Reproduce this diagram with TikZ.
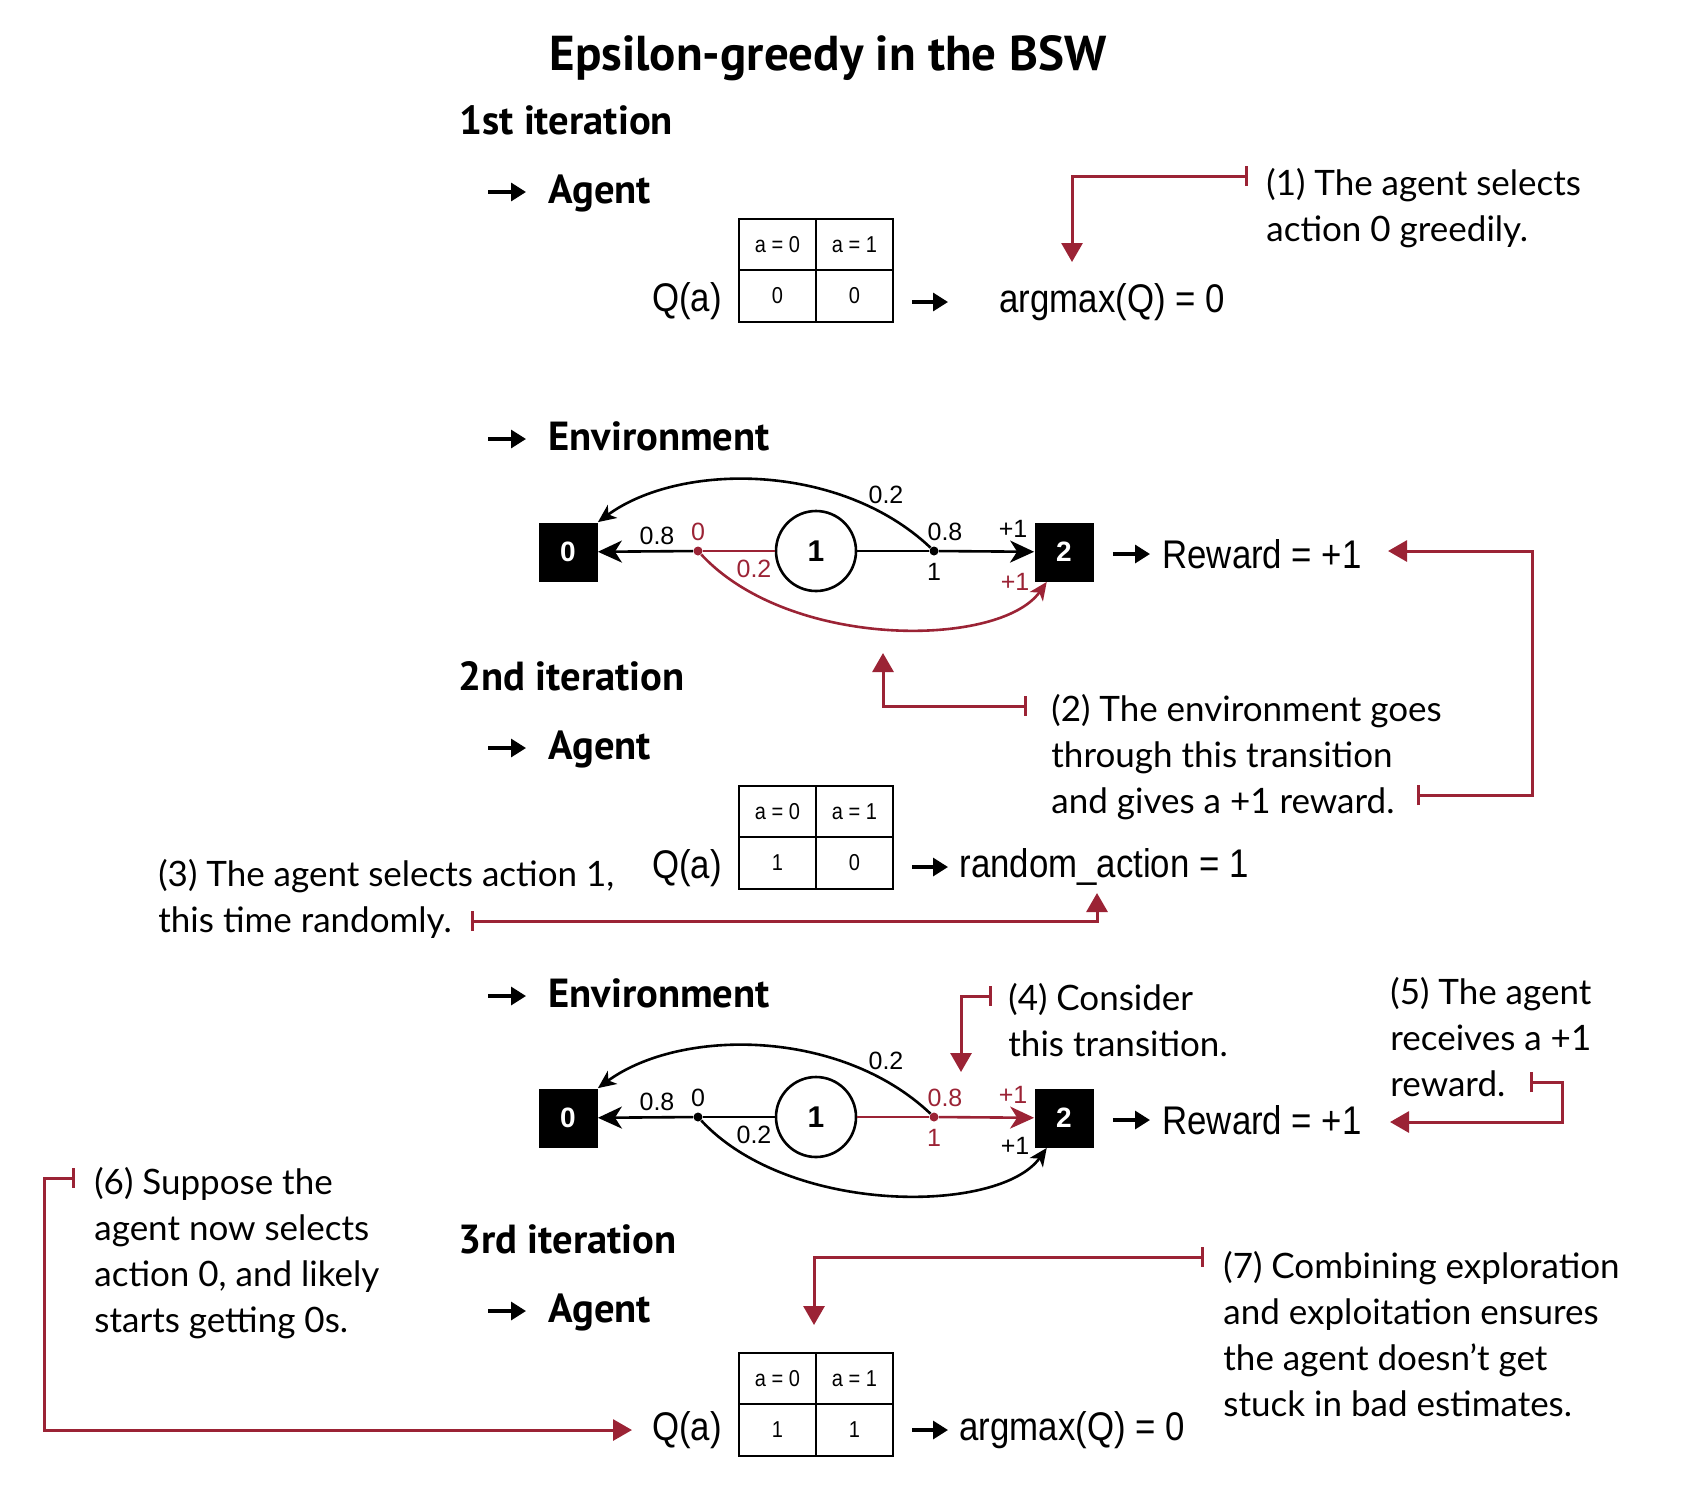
\documentclass[tikz,border=0pt]{standalone}
\usepackage{fontspec}
\setmainfont{Liberation Sans}[FakeStretch=0.87]
\newfontfamily\plainfont{Liberation Sans}
\newfontfamily\headfont{PT Sans}
\newfontfamily\handfont{Lato}
\usetikzlibrary{arrows.meta}
\definecolor{bswred}{RGB}{155,35,53}

\tikzset{
  head/.style={font=\headfont\bfseries\fontsize{20.3}{23}\selectfont, anchor=base west, inner sep=0pt},
  bul/.style={line width=1.6pt, -{Triangle[length=7.5pt,width=9pt]}},
  cell/.style={draw, line width=1.2pt, minimum width=38.5pt, minimum height=25.75pt, inner sep=0pt,
    font=\fontsize{11.5}{13}\selectfont},
  val/.style={font=\fontsize{20}{24}\selectfont, inner sep=0pt},
  bswstate/.style={fill=black, text=white, minimum size=29.5pt, inner sep=0pt,
    font=\plainfont\bfseries\fontsize{14}{16}\selectfont},
  midstate/.style={circle, draw, line width=1.3pt, minimum size=40pt, inner sep=0pt,
    font=\plainfont\bfseries\fontsize{15}{17}\selectfont},
  actdot/.style={circle, fill, minimum size=4.5pt, inner sep=0pt},
  lbl/.style={font=\plainfont\fontsize{12.5}{14}\selectfont, inner sep=0pt},
  link/.style={line width=1.3pt},
  bigtip/.style={-{Stealth[length=12pt,width=11pt,inset=3.5pt]}},
  smalltip/.style={-{Stealth[length=9pt,width=8pt,inset=2.5pt]}},
  note/.style={font=\handfont\fontsize{17.5}{23}\selectfont, align=left, anchor=north west, inner sep=0pt},
  callout/.style={draw=bswred, line width=1.5pt, {Bar[width=10pt]}-{Triangle[length=9.5pt,width=10.5pt]}},
}

\begin{document}
\begin{tikzpicture}[x=0.5pt, y=-0.5pt]
  \useasboundingbox (0,0) rectangle (1690,1494);

  % headings
  \node[font=\headfont\bfseries\fontsize{24.5}{27}\selectfont] (title) at (828,58) {Epsilon-greedy in the BSW};
  \node[head] (it1) at (459,134) {1st iteration};
  \node[head] (ag1) at (548,203) {Agent};
  \node[head] (en1) at (548,450) {Environment};
  \node[head] (it2) at (458,690) {2nd iteration};
  \node[head] (ag2) at (548,759) {Agent};
  \node[head] (en2) at (548,1007) {Environment};
  \node[head] (it3) at (458,1253) {3rd iteration};
  \node[head] (ag3) at (548,1322) {Agent};

  \foreach \n/\y in {ag1/192, en1/439, ag2/748, en2/996, ag3/1311} {
    \coordinate (in\n) at (488,\y);
    \draw[bul, shorten >=11pt] (in\n) -- (in\n -| \n.west);
  }

  % Q tables
  \node[cell] (t1a) at (777.5,244.5) {a = 0};
  \node[cell] (t1b) at (854.5,244.5) {a = 1};
  \node[cell] (t1c) at (777.5,296) {0};
  \node[cell] (t1d) at (854.5,296) {0};

  \node[cell] (t2a) at (777.5,811.5) {a = 0};
  \node[cell] (t2b) at (854.5,811.5) {a = 1};
  \node[cell] (t2c) at (777.5,863) {1};
  \node[cell] (t2d) at (854.5,863) {0};

  \node[cell] (t3a) at (777.5,1378.5) {a = 0};
  \node[cell] (t3b) at (854.5,1378.5) {a = 1};
  \node[cell] (t3c) at (777.5,1430) {1};
  \node[cell] (t3d) at (854.5,1430) {1};

  \node[val, anchor=east] (q1) at (722,301) {Q(a)};
  \node[val, anchor=east] (q2) at (722,868) {Q(a)};
  \node[val, anchor=east] (q3) at (722,1430) {Q(a)};
  \node[val, anchor=west] (am1) at (999,302) {argmax(Q) = 0};
  \node[val, anchor=west] (ra2) at (959,867) {random\_action~=~1};
  \node[val, anchor=west] (am3) at (959,1430) {argmax(Q) = 0};

  \draw[bul, shorten <=9pt, shorten >=25.5pt] (t1d.east |- am1.west) -- (am1.west);
  \draw[bul, shorten <=9pt, shorten >=5.5pt] (t2d.east |- ra2.west) -- (ra2.west);
  \draw[bul, shorten <=9pt, shorten >=5.5pt] (t3d.east |- am3.west) -- (am3.west);

  % environment, 1st iteration
  \node[bswstate] (g1s0) at (568,552) {0};
  \node[midstate] (g1s1) at (816,551) {1};
  \node[bswstate] (g1s2) at (1064,552) {2};
  \node[actdot, bswred] (g1a0) at (698,551) {};
  \node[actdot] (g1a1) at (934,551) {};

  \draw[link, bswred] (g1s1) -- (g1a0);
  \draw[link, bigtip] (g1a0) -- (g1s0);
  \draw[link, bswred, smalltip] (g1a0) .. controls (790,650) and (1000,648) .. (g1s2.240);
  \draw[link] (g1s1) -- (g1a1);
  \draw[link, bigtip] (g1a1) -- (g1s2);
  \draw[link, smalltip] (g1a1) .. controls (840,462) and (680,462) .. (g1s0.north east);

  \node[lbl] (g1l08a) at (657,536) {0.8};
  \node[lbl, bswred] (g1l0) at (698,532) {0};
  \node[lbl, bswred] (g1l02a) at (754,569) {0.2};
  \node[lbl] (g1l02b) at (886,495) {0.2};
  \node[lbl] (g1l08b) at (945,532) {0.8};
  \node[lbl] (g1l1) at (934,572) {1};
  \node[lbl] (g1lp1a) at (1013,529) {+1};
  \node[lbl, bswred] (g1lp1b) at (1015,582) {+1};

  \node[val, anchor=west] (rw1) at (1162,554) {Reward = +1};
  \draw[bul, shorten <=9.5pt, shorten >=6pt] (g1s2.east |- rw1.west) -- (rw1.west);

  % environment, 2nd iteration
  \node[bswstate] (g2s0) at (568,1118) {0};
  \node[midstate] (g2s1) at (816,1117) {1};
  \node[bswstate] (g2s2) at (1064,1118) {2};
  \node[actdot] (g2a0) at (698,1117) {};
  \node[actdot, bswred] (g2a1) at (934,1117) {};

  \draw[link] (g2s1) -- (g2a0);
  \draw[link, bigtip] (g2a0) -- (g2s0);
  \draw[link, smalltip] (g2a0) .. controls (790,1216) and (1000,1214) .. (g2s2.240);
  \draw[link, bswred] (g2s1) -- (g2a1);
  \draw[link, bswred, bigtip] (g2a1) -- (g2s2);
  \draw[link, smalltip] (g2a1) .. controls (840,1028) and (680,1028) .. (g2s0.north east);

  \node[lbl] (g2l08a) at (657,1102) {0.8};
  \node[lbl] (g2l0) at (698,1098) {0};
  \node[lbl] (g2l02a) at (754,1135) {0.2};
  \node[lbl] (g2l02b) at (886,1061) {0.2};
  \node[lbl, bswred] (g2l08b) at (945,1098) {0.8};
  \node[lbl, bswred] (g2l1) at (934,1138) {1};
  \node[lbl, bswred] (g2lp1a) at (1013,1095) {+1};
  \node[lbl] (g2lp1b) at (1015,1146) {+1};

  \node[val, anchor=west] (rw2) at (1162,1120) {Reward = +1};
  \draw[bul, shorten <=9.5pt, shorten >=6pt] (g2s2.east |- rw2.west) -- (rw2.west);

  % notes
  \node[note] (n1) at (1266,168) {(1) The agent selects\\action 0 greedily.};
  \node[note] (n2) at (1051,694) {(2) The environment goes\\through this transition\\and gives a +1 reward.};
  \node[note] (n3) at (158,859) {(3) The agent selects action 1,\\this time randomly.};
  \node[note] (n4) at (1008,983) {(4) Consider\\this transition.};
  \node[note] (n5) at (1390,977) {(5) The agent\\receives a +1\\reward.};
  \node[note] (n6) at (94,1167) {(6) Suppose the\\agent now selects\\action 0, and likely\\starts getting 0s.};
  \node[note] (n7) at (1223,1251) {(7) Combining exploration\\and exploitation ensures\\the agent doesn’t get\\stuck in bad estimates.};

  % callouts
  \coordinate (c1a) at (1248,176);  \coordinate (c1b) at (1072,262);
  \coordinate (c2a) at (1027,706);  \coordinate (c2b) at (883,653);
  \coordinate (c2c) at (1417,795);  \coordinate (c2k) at (1532,551);  \coordinate (c2d) at (1388,551);
  \coordinate (c3a) at (471,921);   \coordinate (c3b) at (1097,893);
  \coordinate (c4a) at (992,996);   \coordinate (c4b) at (961,1072);
  \coordinate (c5a) at (1530,1082); \coordinate (c5k) at (1562,1122); \coordinate (c5b) at (1390,1122);
  \coordinate (c6a) at (75,1178);   \coordinate (c6k) at (44,1430);   \coordinate (c6b) at (632,1430);
  \coordinate (c7a) at (1204,1257); \coordinate (c7b) at (814,1325);

  \draw[callout] (c1a) -| (c1b);
  \draw[callout] (c2a) -| (c2b);
  \draw[callout] (c2c) -| (c2k) -- (c2d);
  \draw[callout] (c3a) -| (c3b);
  \draw[callout] (c4a) -| (c4b);
  \draw[callout] (c5a) -| (c5k) -- (c5b);
  \draw[callout] (c6a) -| (c6k) -- (c6b);
  \draw[callout] (c7a) -| (c7b);
\end{tikzpicture}
\end{document}
